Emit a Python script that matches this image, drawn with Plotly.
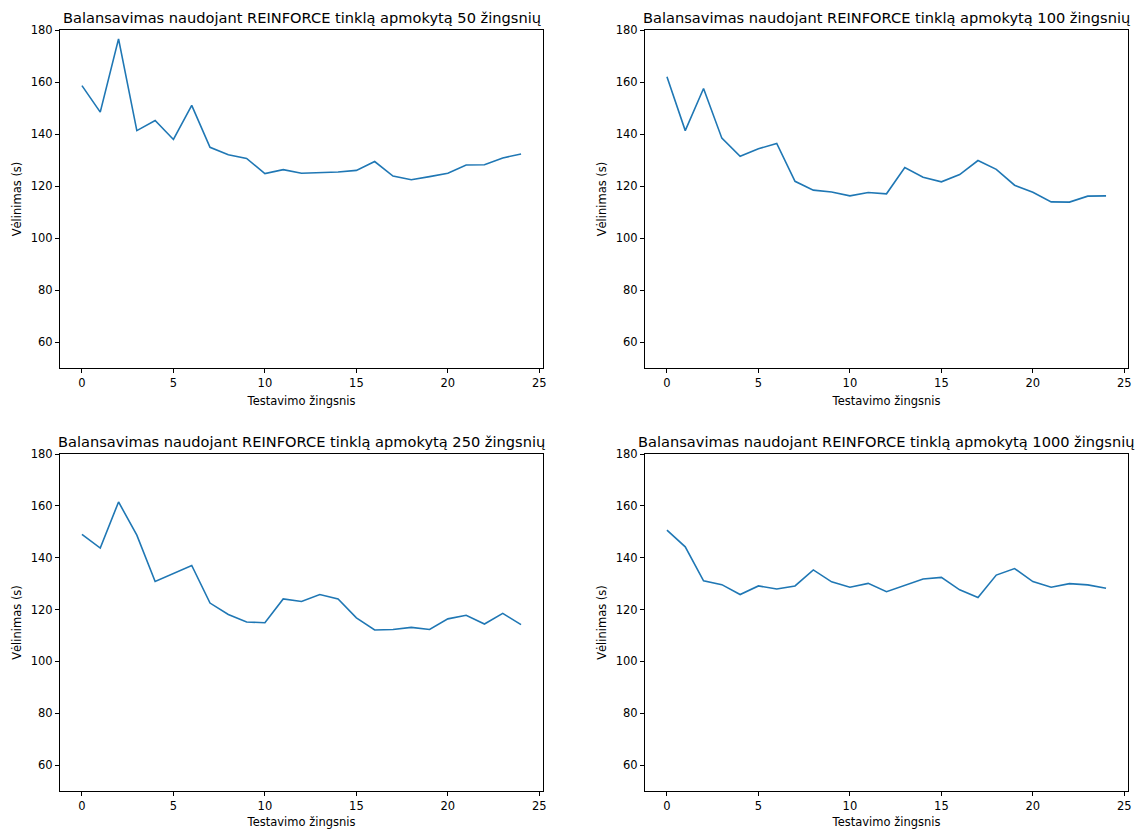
import plotly.graph_objects as go

steps = list(range(25))

titles = [
    "Balansavimas naudojant REINFORCE tinklą apmokytą 50 žingsnių",
    "Balansavimas naudojant REINFORCE tinklą apmokytą 100 žingsnių",
    "Balansavimas naudojant REINFORCE tinklą apmokytą 250 žingsnių",
    "Balansavimas naudojant REINFORCE tinklą apmokytą 1000 žingsnių",
]

delay_50 = [158.6, 148.4, 176.6, 141.3, 145.2, 137.9, 151.0, 134.9, 132.0, 130.6, 124.8,
            126.3, 124.9, 125.2, 125.4, 126.0, 129.4, 123.8, 122.4, 123.6, 124.9, 128.1,
            128.2, 130.8, 132.3]
delay_100 = [162.0, 141.3, 157.5, 138.4, 131.4, 134.3, 136.4, 121.8, 118.4, 117.7, 116.2,
             117.5, 117.0, 127.1, 123.4, 121.6, 124.4, 129.8, 126.4, 120.3, 117.6, 113.9,
             113.8, 116.1, 116.2]
delay_250 = [149.0, 143.7, 161.5, 148.7, 130.8, 134.0, 137.0, 122.5, 118.1, 115.2, 114.9,
             124.1, 123.1, 125.8, 124.1, 116.8, 112.1, 112.3, 113.1, 112.3, 116.4, 117.8,
             114.4, 118.5, 114.2]
delay_1000 = [150.6, 144.2, 131.1, 129.6, 125.8, 129.1, 127.9, 129.1, 135.3, 130.7, 128.6,
              130.1, 126.9, 129.5, 131.8, 132.4, 127.6, 124.6, 133.3, 135.8, 130.8, 128.6,
              130.0, 129.5, 128.2]

series = [delay_50, delay_100, delay_250, delay_1000]

x_ticks = [0, 5, 10, 15, 20, 25]
y_ticks = [60, 80, 100, 120, 140, 160, 180]

W, H = 1143, 829
# pixel boxes: (left, right, top, bottom)
boxes = [(60, 543, 30, 368), (645, 1128, 30, 368), (60, 543, 454, 791), (645, 1128, 454, 791)]

fig = go.Figure()
annotations = []
font_family = "DejaVu Sans"
tick_size = 11.5

for i, (ys, box, title) in enumerate(zip(series, boxes, titles)):
    n = i + 1
    xa = "x" if n == 1 else f"x{n}"
    ya = "y" if n == 1 else f"y{n}"
    fig.add_trace(go.Scatter(x=steps, y=ys, mode="lines", xaxis=xa, yaxis=ya,
                             line=dict(color="#1f77b4", width=1.6), showlegend=False))
    l, r, t, b = box
    xdom = [l / W, r / W]
    ydom = [1 - b / H, 1 - t / H]
    common = dict(showgrid=False, zeroline=False, showline=True, mirror=True,
                  linecolor="black", linewidth=1, ticks="outside", ticklen=4,
                  tickcolor="black", tickfont=dict(size=tick_size, color="black", family=font_family),
                  automargin=False)
    xkey = "xaxis" if n == 1 else f"xaxis{n}"
    ykey = "yaxis" if n == 1 else f"yaxis{n}"
    fig.update_layout(**{
        xkey: dict(domain=xdom, anchor=ya, range=[-1.2, 25.2], tickvals=x_ticks,
                   title=dict(text="Testavimo žingsnis", standoff=8,
                              font=dict(size=tick_size, color="black", family=font_family)),
                   **common),
        ykey: dict(domain=ydom, anchor=xa, range=[50, 180], tickvals=y_ticks,
                   title=dict(text="Vėlinimas (s)", standoff=6,
                              font=dict(size=tick_size, color="black", family=font_family)),
                   **common),
    })
    annotations.append(dict(text=title, x=(l + r) / 2 / W, y=1 - (t - 2) / H,
                            xref="paper", yref="paper", xanchor="center", yanchor="bottom",
                            showarrow=False,
                            font=dict(size=14.6, color="black", family=font_family)))

fig.update_layout(width=W, height=H, margin=dict(l=0, r=0, t=0, b=0),
                  paper_bgcolor="white", plot_bgcolor="white",
                  annotations=annotations, font=dict(family=font_family))

fig.write_html("out.html")
